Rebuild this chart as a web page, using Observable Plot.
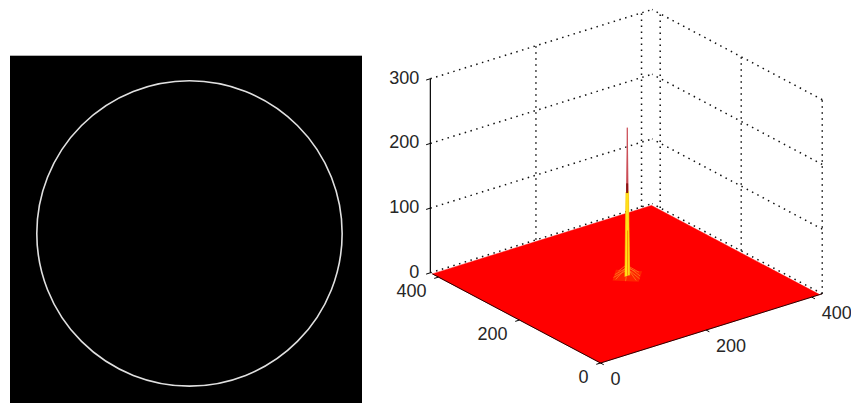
<!DOCTYPE html>
<html><head><meta charset="utf-8">
<script src="https://cdn.jsdelivr.net/npm/d3@7"></script>
<script src="https://cdn.jsdelivr.net/npm/@observablehq/plot@0.6"></script>
<style>
html,body{margin:0;padding:0;background:#fff;}
#wrap{display:flex;width:851px;height:403px;overflow:hidden;}
#wrap svg{display:block;flex:none;}
</style></head><body><div id="wrap"></div>
<script>
// ---------------- Data ----------------
const imageSize = 415;                 // image / accumulator size (pixels)
const circleCenter = [211, 209];       // circle in the edge image (image coords)
const circleRadius = 180;

const xyTicks = [0, 200, 400];
const zTicks = [0, 100, 200, 300];
const axisMax = 420;                   // axis limits of the 3-D box
const zMax = 300;

const peakLocation = [228, 231];       // accumulator peak (u, v)
const spikeOffsets = [-3.5, -1.3, 0, 1.3, 3.5];
const spikeHeights = [0, 142, 229, 142, 0];
const columnOffsets = [-4.5, -2.6, 2.4, 4.5];
const columnHeights = [0, 130, 130, 0];
const darkBand = [128, 143];
const streakTop = 70;
const skirtDirections = [[22,0],[-22,0],[0,22],[0,-22],[14,14],[-14,-14],[15,-12],[-12,15],[8,-20],[-20,8],[20,6],[6,20]];
const skirtHeights = [16, 14, 18, 12, 20, 10, 15, 13, 11, 9, 12, 14];
const skirtRadius = 28;

// ---------------- View (MATLAB-like orthographic) ----------------
const az = 37.5 * Math.PI / 180, el = 24 * Math.PI / 180, zStretch = 1.064;
function proj(u, v, z) {
  return {
    sx: u * Math.cos(az) - v * Math.sin(az),
    sy: (u * Math.sin(az) + v * Math.cos(az)) * Math.sin(el) + z * zStretch * Math.cos(el)
  };
}
function seg(a, b, extra = {}) {
  const p = proj(...a), q = proj(...b);
  return {x1: p.sx, y1: p.sy, x2: q.sx, y2: q.sy, ...extra};
}
function poly(points, id) {
  return points.map(([u, v, z]) => ({...proj(u, v, z), id}));
}

// ---------------- Left panel: edge image ----------------
const left = Plot.plot({
  width: 380, height: 403, margin: 0,
  style: {background: "transparent"},
  x: {domain: [0, imageSize], range: [10, 362], axis: null},
  y: {domain: [0, imageSize], range: [55.7, 407.7], axis: null},
  r: {type: "linear", domain: [0, imageSize], range: [0, 352]},
  marks: [
    Plot.rect([{x1: 0, x2: imageSize, y1: 0, y2: imageSize}], {x1: "x1", x2: "x2", y1: "y1", y2: "y2", fill: "black"}),
    Plot.dot([{cx: circleCenter[0], cy: circleCenter[1], r: circleRadius}],
      {x: "cx", y: "cy", r: "r", fill: "none", stroke: "#e0e0e0", strokeWidth: 1.6})
  ]
});

// ---------------- Right panel: 3-D accumulator surface ----------------
const W = 471, H = 403, s = 0.6655, X0 = 220, Y0 = 362.5;

const grid = [];
for (const z of zTicks) {
  grid.push(seg([0, axisMax, z], [axisMax, axisMax, z]));
  grid.push(seg([axisMax, 0, z], [axisMax, axisMax, z]));
}
for (const t of xyTicks) {
  if (t > 0) grid.push(seg([t, axisMax, 0], [t, axisMax, zMax]));
  grid.push(seg([axisMax, t, 0], [axisMax, t, zMax]));
}

const floor = poly([[0,0,0],[imageSize,0,0],[imageSize,imageSize,0],[0,imageSize,0],[0,0,0]], "floor");

const [pu, pv] = peakLocation;
const skirt = poly([[pu+skirtRadius,pv,0],[pu,pv+skirtRadius,0],[pu-skirtRadius,pv,0],[pu,pv-skirtRadius,0],[pu+skirtRadius,pv,0]], "skirt");
const ridges = skirtDirections.map(([du, dv], i) => seg([pu, pv, skirtHeights[i]], [pu+du, pv+dv, 0]));
const spike = poly(spikeOffsets.map((d, i) => [pu + d, pv, spikeHeights[i]]), "spike");
const column = poly(columnOffsets.map((d, i) => [pu + d, pv, columnHeights[i]]), "column");
const details = [
  seg([pu+0.6, pv, 0], [pu+0.6, pv, streakTop], {c: "#ff8c00", w: 1}),
  seg([pu-0.3, pv, darkBand[0]], [pu-0.3, pv, darkBand[1]], {c: "#8a1414", w: 2})
];

const axes = [
  seg([0, 0, 0], [axisMax, 0, 0]),
  seg([0, 0, 0], [0, imageSize, 0])
];
const ticks = [];
for (const t of xyTicks) {
  ticks.push(seg([t, 0, 0], [t, -8, 0]));
  ticks.push(seg([0, t, 0], [-8, t, 0]));
}
const zAxis = [seg([0, axisMax, 0], [0, axisMax, zMax])];
const zTickSegs = zTicks.map(z => seg([0, axisMax, z], [-8, axisMax, z]));

const zLabels = zTicks.map(z => ({...proj(0, axisMax, z), t: String(z)}));
const vLabels = xyTicks.map(t => ({...proj(0, t, 0), t: String(t)}));
const uLabels = xyTicks.map(t => ({...proj(t, 0, 0), t: String(t)}));

const font = {fontSize: 18, fill: "#262626", fontFamily: "Liberation Sans, Arial, sans-serif"};
const dotted = {stroke: "#111", strokeWidth: 1.5, strokeDasharray: "1.5 4.5"};

const right = Plot.plot({
  width: W, height: H, margin: 0,
  style: {background: "transparent"},
  x: {domain: [-X0 / s, (W - X0) / s], range: [0, W], axis: null},
  y: {domain: [(Y0 - H) / s, Y0 / s], range: [H, 0], axis: null},
  marks: [
    Plot.link(grid, {x1: "x1", y1: "y1", x2: "x2", y2: "y2", ...dotted}),
    Plot.line(floor, {x: "sx", y: "sy", z: "id", fill: "#ff0000", stroke: "#ff0000", strokeWidth: 0.5}),
    Plot.link(axes, {x1: "x1", y1: "y1", x2: "x2", y2: "y2", stroke: "#2a0000", strokeWidth: 1}),
    Plot.link(ticks, {x1: "x1", y1: "y1", x2: "x2", y2: "y2", stroke: "#000", strokeWidth: 1}),
    Plot.line(skirt, {x: "sx", y: "sy", z: "id", fill: "#ff5a00", fillOpacity: 0.4, stroke: "none"}),
    Plot.link(ridges, {x1: "x1", y1: "y1", x2: "x2", y2: "y2", stroke: "#ff8020", strokeWidth: 1, strokeOpacity: 0.75}),
    Plot.line(spike, {x: "sx", y: "sy", z: "id", fill: "#c8424c", stroke: "#c8424c", strokeWidth: 0.8}),
    Plot.line(column, {x: "sx", y: "sy", z: "id", fill: "#ffe21a", stroke: "#ffd000", strokeWidth: 0.6}),
    Plot.link(details, {x1: "x1", y1: "y1", x2: "x2", y2: "y2", stroke: "c", strokeWidth: "w"}),
    Plot.link(zAxis, {x1: "x1", y1: "y1", x2: "x2", y2: "y2", stroke: "#000", strokeWidth: 1.2}),
    Plot.link(zTickSegs, {x1: "x1", y1: "y1", x2: "x2", y2: "y2", stroke: "#000", strokeWidth: 1}),
    Plot.text(zLabels, {x: "sx", y: "sy", text: "t", textAnchor: "end", dx: -11, dy: -1, ...font}),
    Plot.text(vLabels, {x: "sx", y: "sy", text: "t", textAnchor: "end", dx: -12, dy: 14.5, ...font}),
    Plot.text(uLabels, {x: "sx", y: "sy", text: "t", textAnchor: "start", dx: 10, dy: 16.5, ...font})
  ]
});

const wrap = document.getElementById("wrap");
wrap.append(left, right);
</script>
</body></html>
